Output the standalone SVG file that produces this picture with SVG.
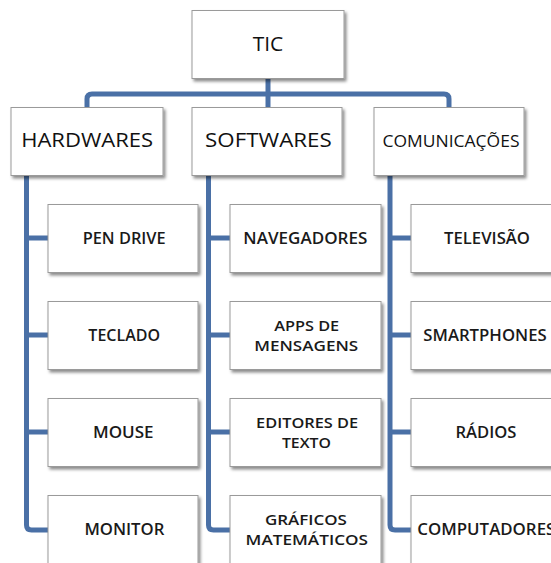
<svg xmlns="http://www.w3.org/2000/svg" width="551" height="563" viewBox="0 0 551 563">
<defs>
<filter id="sh" x="-10%" y="-10%" width="130%" height="140%">
<feDropShadow dx="2" dy="2.5" stdDeviation="1.6" flood-color="#000" flood-opacity="0.45"/>
</filter>
<style>
.box{fill:#fff;stroke:#9a9a9a;stroke-width:1;filter:url(#sh)}
.t1{font-family:"Open Sans","Liberation Sans",sans-serif;font-size:20px;fill:#111;text-anchor:middle}
.t2{font-family:"Open Sans","Liberation Sans",sans-serif;font-size:16px;fill:#111;text-anchor:middle}
.t3{font-family:"Open Sans","Liberation Sans",sans-serif;font-size:15.5px;font-weight:600;fill:#1a1a1a;text-anchor:middle}
.t4{font-family:"Open Sans","Liberation Sans",sans-serif;font-size:14.2px;font-weight:600;fill:#1a1a1a;text-anchor:middle}
.c{fill:none;stroke:#4A70A6;stroke-width:5;stroke-linejoin:round}
</style>
</defs>
<g id="connectors">
<path class="c" d="M268,79 V107"/>
<path class="c" d="M87,107 V99 Q87,94 92,94 H444 Q449,94 449,99 V107"/>
<path class="c" d="M26.5,175 V525 Q26.5,530 31.5,530 H48 M26.5,238 H48 M26.5,335 H48 M26.5,432 H48"/>
<path class="c" d="M208.5,175 V525 Q208.5,530 213.5,530 H230 M208.5,238 H230 M208.5,335 H230 M208.5,432 H230"/>
<path class="c" d="M390,175 V525 Q390,530 395,530 H411 M390,238 H411 M390,335 H411 M390,432 H411"/>
</g>
<g id="tic"><rect class="box" x="192" y="10.5" width="152" height="68"/><text class="t1" x="268" y="50.7" textLength="30.6" lengthAdjust="spacingAndGlyphs">TIC</text></g>
<g id="hardwares"><rect class="box" x="11" y="107.5" width="152" height="68"/><text class="t1" x="87.2" y="147.3" textLength="132" lengthAdjust="spacingAndGlyphs">HARDWARES</text></g>
<g id="softwares"><rect class="box" x="192" y="107.5" width="150" height="68"/><text class="t1" x="268.4" y="147.3" textLength="126.6" lengthAdjust="spacingAndGlyphs">SOFTWARES</text></g>
<g id="comunicacoes"><rect class="box" x="374" y="107.5" width="150" height="68"/><text class="t2" x="451" y="146.7" textLength="137" lengthAdjust="spacingAndGlyphs">COMUNICAÇÕES</text></g>

<g id="pen-drive"><rect class="box" x="48" y="204.5" width="150" height="68"/><text class="t3" x="124.2" y="244" textLength="83" lengthAdjust="spacingAndGlyphs">PEN DRIVE</text></g>
<g id="teclado"><rect class="box" x="48" y="301.5" width="150" height="68"/><text class="t3" x="124.2" y="340.7" textLength="71.7" lengthAdjust="spacingAndGlyphs">TECLADO</text></g>
<g id="mouse"><rect class="box" x="48" y="398.5" width="150" height="68"/><text class="t3" x="123.3" y="437.7" textLength="60.6" lengthAdjust="spacingAndGlyphs">MOUSE</text></g>
<g id="monitor"><rect class="box" x="48" y="495.5" width="150" height="68"/><text class="t3" x="124.4" y="534.7" textLength="80" lengthAdjust="spacingAndGlyphs">MONITOR</text></g>

<g id="navegadores"><rect class="box" x="230" y="204.5" width="151" height="68"/><text class="t3" x="305.3" y="244" textLength="124" lengthAdjust="spacingAndGlyphs">NAVEGADORES</text></g>
<g id="apps"><rect class="box" x="230" y="301.5" width="151" height="68"/><text class="t4" x="306.7" y="331.3" textLength="65" lengthAdjust="spacingAndGlyphs">APPS DE</text><text class="t4" x="306.2" y="350.7" textLength="104" lengthAdjust="spacingAndGlyphs">MENSAGENS</text></g>
<g id="editores"><rect class="box" x="230" y="398.5" width="151" height="68"/><text class="t4" x="307.1" y="428.3" textLength="102" lengthAdjust="spacingAndGlyphs">EDITORES DE</text><text class="t4" x="306.4" y="447.7" textLength="49" lengthAdjust="spacingAndGlyphs">TEXTO</text></g>
<g id="graficos"><rect class="box" x="230" y="495.5" width="151" height="68"/><text class="t4" x="305.9" y="525.3" textLength="82" lengthAdjust="spacingAndGlyphs">GRÁFICOS</text><text class="t4" x="306.8" y="544.7" textLength="122.5" lengthAdjust="spacingAndGlyphs">MATEMÁTICOS</text></g>

<g id="televisao"><rect class="box" x="411" y="204.5" width="151" height="68"/><text class="t3" x="487" y="244" textLength="86" lengthAdjust="spacingAndGlyphs">TELEVISÃO</text></g>
<g id="smartphones"><rect class="box" x="411" y="301.5" width="151" height="68"/><text class="t3" x="485" y="340.7" textLength="123.4" lengthAdjust="spacingAndGlyphs">SMARTPHONES</text></g>
<g id="radios"><rect class="box" x="411" y="398.5" width="151" height="68"/><text class="t3" x="486" y="437.7" textLength="61" lengthAdjust="spacingAndGlyphs">RÁDIOS</text></g>
<g id="computadores"><rect class="box" x="411" y="495.5" width="151" height="68"/><text class="t3" x="417.3" y="534.7" style="text-anchor:start" textLength="138" lengthAdjust="spacingAndGlyphs">COMPUTADORES</text></g>
</svg>
